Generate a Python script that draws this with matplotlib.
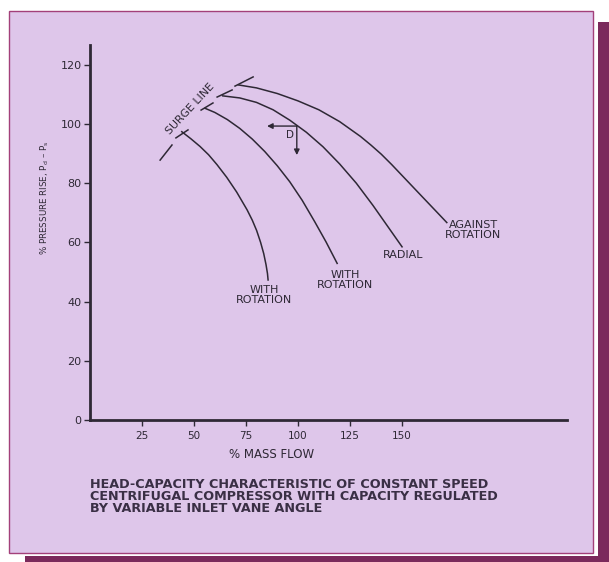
import matplotlib
matplotlib.use("Agg")
import matplotlib.pyplot as plt
from matplotlib.patches import Rectangle

plt.rcParams['font.family'] = ['DejaVu Sans']

# ---- data ----
x_ticks = [25, 50, 75, 100, 125, 150]
y_ticks = [0, 20, 40, 60, 80, 100, 120]

# with rotation (strong)
x1 = [44.1, 48.5, 52.9, 57, 61, 65.7, 70.5, 75.5, 78, 80.1, 82, 83.5, 84.6, 85.3, 85.6]
y1 = [97.4, 95.0, 92.4, 89.6, 86.3, 82.0, 77.0, 71.0, 67.5, 64.0, 60.0, 56.2, 52.5, 49.5, 47.3]
# with rotation
x2 = [55.3, 60, 66, 72, 78, 84, 90, 96, 102, 108, 113.5, 118.8]
y2 = [105.3, 103.9, 101.5, 98.5, 94.9, 90.7, 85.9, 80.5, 74.2, 67.0, 60.1, 52.9]
# radial
x3 = [63.8, 72, 80, 88, 96, 104, 112, 120, 128, 136, 144, 150]
y3 = [109.5, 108.8, 107.3, 104.8, 101.3, 97.2, 92.3, 86.5, 80.0, 72.5, 64.5, 58.5]
# against rotation
x4 = [71.3, 80, 90, 100, 110, 120, 130, 135, 140, 145, 150, 160, 168, 171.5]
y4 = [113.2, 112.2, 110.3, 107.8, 104.8, 100.8, 95.8, 92.9, 89.8, 86.3, 82.6, 75.2, 69.3, 66.7]

# surge line dashes (x0, y0, x1, y1)
surge = [(33.7, 87.8, 39.4, 92.9),
         (41.3, 95.3, 47.1, 98.0),
         (53.4, 104.7, 59.1, 107.1),
         (61.1, 109.1, 68.3, 111.5),
         (69.7, 112.8, 78.4, 115.9)]

curve_labels = [("WITH\nROTATION", 83.7, 42.2),
                ("WITH\nROTATION", 122.6, 47.3),
                ("RADIAL", 150.5, 55.7),
                ("AGAINST\nROTATION", 184.1, 64.2)]

caption = ["HEAD-CAPACITY CHARACTERISTIC OF CONSTANT SPEED",
           "CENTRIFUGAL COMPRESSOR WITH CAPACITY REGULATED",
           "BY VARIABLE INLET VANE ANGLE"]

ink = '#2e2835'
panel = '#dec6ea'
shadow = '#7b2a5c'

fig = plt.figure(figsize=(6.09, 5.62), dpi=100)
fig.patch.set_facecolor('white')

# panel + drop shadow (behind the axes)
for r in [Rectangle((0.982, 0.0), 0.018, 0.961, facecolor=shadow, edgecolor='none'),
          Rectangle((0.041, 0.0), 0.959, 0.0107, facecolor=shadow, edgecolor='none'),
          Rectangle((0.014, 0.016), 0.96, 0.9644, facecolor=panel, edgecolor='#a3407a', lw=1.0)]:
    r.set_transform(fig.transFigure)
    r.set_zorder(-5)
    fig.patches.append(r)

ax = fig.add_axes([0.1478, 0.2527, 0.7833, 0.6673])
ax.set_facecolor('none')
ax.set_xlim(0, 229.3)
ax.set_ylim(0, 126.7)
for s in ['top', 'right']:
    ax.spines[s].set_visible(False)
for s in ['left', 'bottom']:
    ax.spines[s].set_linewidth(2.0)
    ax.spines[s].set_color(ink)
ax.set_xticks(x_ticks)
ax.set_yticks(y_ticks)
ax.tick_params(axis='both', colors=ink, width=1.0, length=4)
ax.tick_params(axis='x', pad=4, labelsize=7.5)
ax.tick_params(axis='y', pad=2, labelsize=8)

for xs, ys in [(x1, y1), (x2, y2), (x3, y3), (x4, y4)]:
    ax.plot(xs, ys, color=ink, lw=1.1, solid_joinstyle='round')

for a, b, c, d in surge:
    ax.plot([a, c], [b, d], color=ink, lw=1.1)
ax.text(48.0, 105.0, "SURGE LINE", rotation=47, rotation_mode='anchor',
        ha='center', va='center', fontsize=7.8, color=ink)

for txt, tx, ty in curve_labels:
    ax.text(tx, ty, txt, ha='center', va='center', multialignment='center',
            fontsize=8, color=ink, linespacing=1.1)

# D arrows on the radial line
ax.annotate("", xy=(85.1, 99.3), xytext=(99.4, 99.3),
            arrowprops=dict(arrowstyle='-|>', color=ink, lw=1.0, mutation_scale=8,
                            shrinkA=0, shrinkB=0))
ax.annotate("", xy=(99.4, 89.5), xytext=(99.4, 99.3),
            arrowprops=dict(arrowstyle='-|>', color=ink, lw=1.0, mutation_scale=8,
                            shrinkA=0, shrinkB=0))
ax.text(96.0, 96.3, "D", ha='center', va='center', fontsize=7.5, color=ink)

fig.text(272 / 609, 1 - 454 / 562, "% MASS FLOW", ha='center', va='center',
         fontsize=8.5, color=ink)
fig.text(45 / 609, 1 - 198 / 562, r"% PRESSURE RISE, P$_{\rm d}$ – P$_{\rm s}$",
         rotation=90, ha='center', va='center', fontsize=6.3, color=ink)

for i, line in enumerate(caption):
    fig.text(90 / 609, 1 - (485 + 11.7 * i) / 562, line, ha='left', va='center',
             fontsize=9.2, color='#3a2f45', fontweight='bold')

fig.savefig("out.png", dpi=100, facecolor=fig.get_facecolor())
